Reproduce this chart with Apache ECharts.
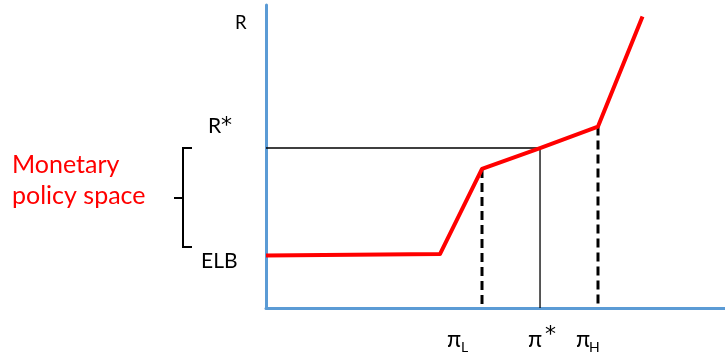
<!DOCTYPE html>
<html>
<head>
<meta charset="utf-8">
<script src="https://cdn.jsdelivr.net/npm/echarts@6/dist/echarts.min.js"></script>
<style>html,body{margin:0;padding:0;background:#fff}#c{width:725px;height:362px}</style>
</head>
<body>
<div id="c"></div>
<script>
// Policy rule (inflation -> interest rate), arbitrary units 0..100
const policyX = [0, 37.9, 47.06, 59.7, 72.33, 82.03];
const policyR = [17.3, 17.8, 45.9, 52.8, 59.9, 96.2];
const piL = 47.06, piStar = 59.7, piH = 72.33;
const rStar = 52.8;
const rAtPiL = 45.9, rAtPiH = 59.9;

const FONT = 'Lato, "Open Sans", "DejaVu Sans", sans-serif';
const STAR_FONT = '"DejaVu Sans", sans-serif';
const chart = echarts.init(document.getElementById('c'), null, {renderer: 'canvas'});

function txt(x, y, s, size, color, family) {
  return {type: 'text', x: x, y: y, z: 100,
    style: {text: s, fontSize: size, fontFamily: family || FONT, fill: color || '#000', verticalAlign: 'middle', align: 'left'}};
}

chart.setOption({
  animation: false,
  grid: {left: 266, right: 0, top: 5, bottom: 54},
  xAxis: {type: 'value', min: 0, max: 100,
    axisLine: {show: true, lineStyle: {color: '#5B9BD5', width: 3}},
    axisTick: {show: false}, axisLabel: {show: false}, splitLine: {show: false}},
  yAxis: {type: 'value', min: 0, max: 100,
    axisLine: {show: true, lineStyle: {color: '#5B9BD5', width: 3}},
    axisTick: {show: false}, axisLabel: {show: false}, splitLine: {show: false}},
  series: [
    {type: 'line', data: [[0, rStar], [piStar, rStar], [piStar, 0]], symbol: 'none',
      lineStyle: {color: '#000', width: 1.3}, z: 2},
    {type: 'line', data: [[piL, rAtPiL], [piL, 0]], symbol: 'none',
      lineStyle: {color: '#000', width: 3, type: [9, 5]}, z: 2},
    {type: 'line', data: [[piH, rAtPiH], [piH, 0]], symbol: 'none',
      lineStyle: {color: '#000', width: 3, type: [9, 5]}, z: 2},
    {type: 'line', data: policyX.map((x, i) => [x, policyR[i]]), symbol: 'none',
      lineStyle: {color: '#FF0000', width: 4, join: 'round'}, z: 3}
  ],
  graphic: [
    txt(235, 23, 'R', 18.5),
    txt(208, 126, 'R', 21),
    txt(221, 126, '*', 22, '#000', STAR_FONT),
    txt(201, 261, 'ELB', 21),
    txt(12, 165, 'Monetary', 25, '#FF0000'),
    txt(12, 196, 'policy space', 25, '#FF0000'),
    {type: 'polyline', z: 100, shape: {points: [[192,148],[183,148],[183,198],[174,198],[183,198],[183,247],[192,247]]},
      style: {stroke: '#000', lineWidth: 2, fill: null}},
    txt(447, 340, 'π', 23),
    txt(461, 347, 'L', 14),
    txt(528, 340, 'π', 23),
    txt(545, 335, '*', 22, '#000', STAR_FONT),
    txt(576, 340, 'π', 23),
    txt(589, 347, 'H', 14)
  ]
});
</script>
</body>
</html>
